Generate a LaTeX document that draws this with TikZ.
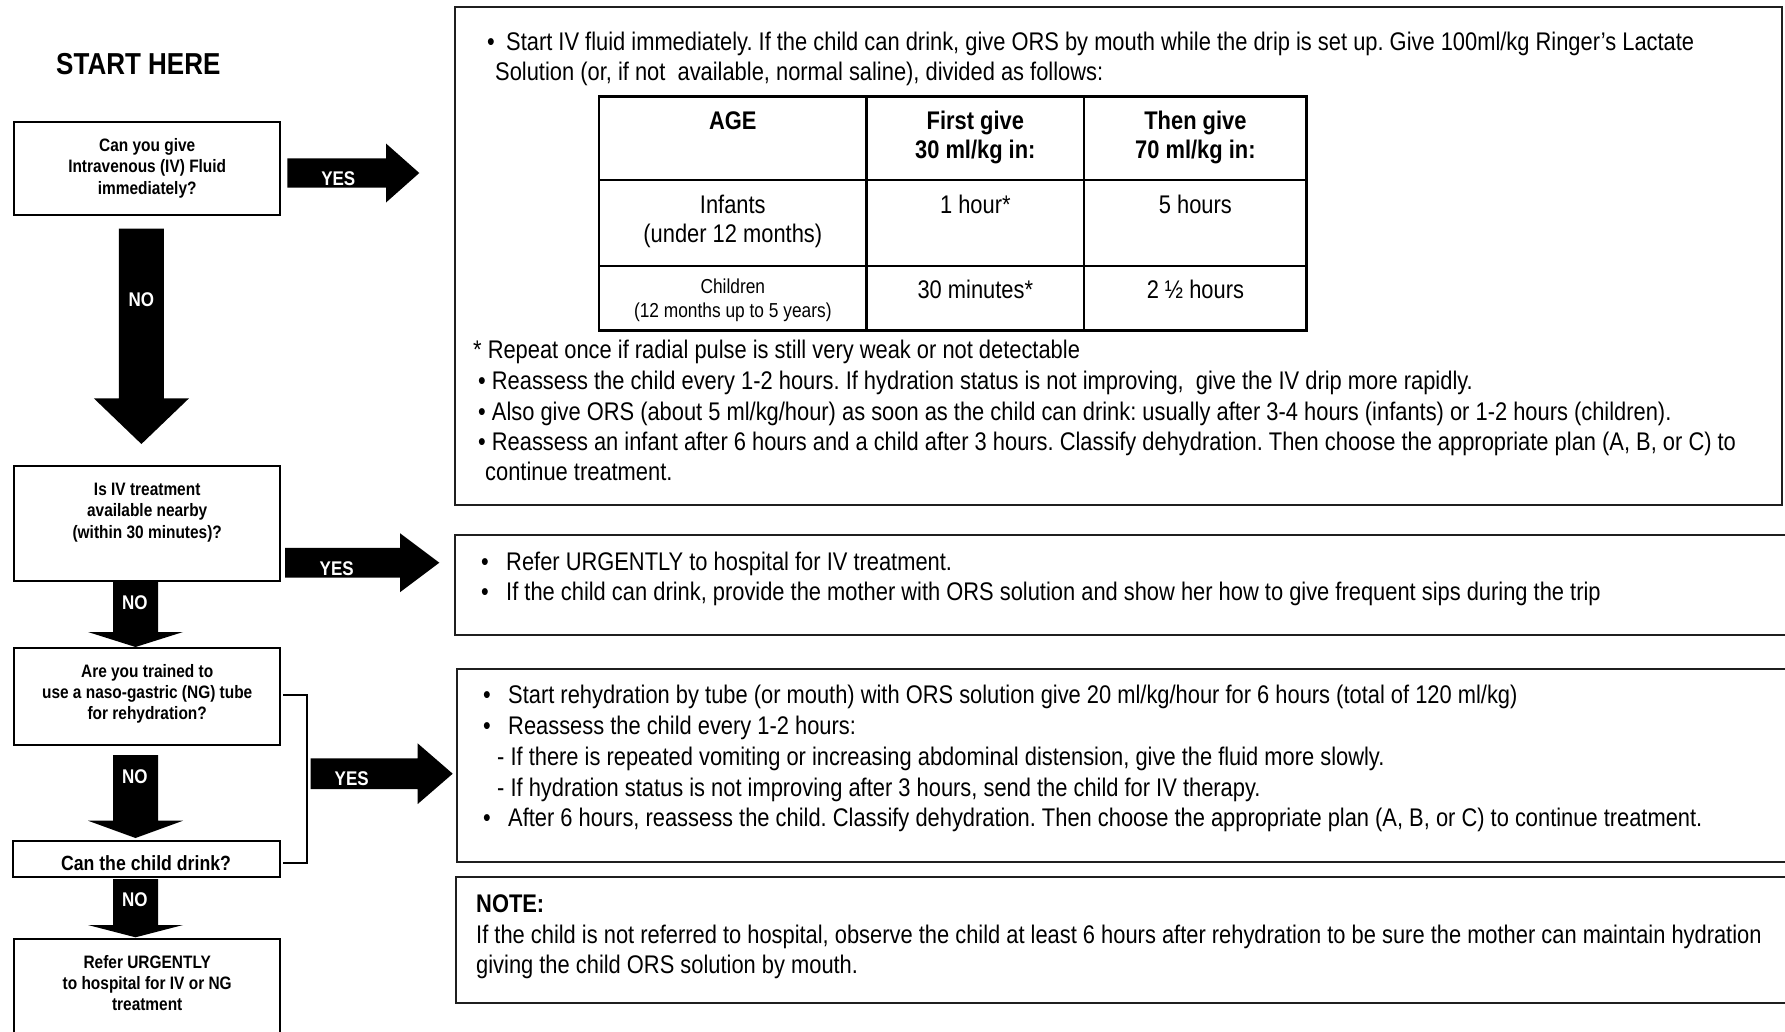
\documentclass[tikz,border=0pt]{standalone}
\usepackage{fontspec}
\setmainfont{Liberation Sans}[FakeStretch=0.858]
\usetikzlibrary{calc}
\frenchspacing
\newcommand{\blkdown}[6]{\fill (#1-#5,#2) -- (#1+#5,#2) -- (#1+#5,#3) -- (#1+#6,#3) -- (#1,#4) -- (#1-#6,#3) -- (#1-#5,#3) -- cycle;}
\newcommand{\blkright}[6]{\fill (#2,#1-#5) -- (#3,#1-#5) -- (#3,#1-#6) -- (#4,#1) -- (#3,#1+#6) -- (#3,#1+#5) -- (#2,#1+#5) -- cycle;}
\begin{document}
\frenchspacing
\begin{tikzpicture}[x=1pt,y=-1pt,
  qbox/.style={draw=black, line width=2pt, anchor=north west, inner sep=0pt, outer sep=0pt},
  rbox/.style={draw=black!88, line width=2pt, anchor=north west, inner sep=0pt, outer sep=0pt},
  qtxt/.style={anchor=base, inner sep=0pt, font=\bfseries\fontsize{18}{21.3}\selectfont},
  btxt/.style={anchor=base west, inner sep=0pt, font=\fontsize{25.5}{30.7}\selectfont},
  ttxt/.style={anchor=base, inner sep=0pt, font=\fontsize{25.5}{30.7}\selectfont},
  thead/.style={anchor=base, inner sep=0pt, font=\bfseries\fontsize{25.5}{30.7}\selectfont},
  tsmall/.style={anchor=base, inner sep=0pt, font=\fontsize{20.2}{24}\selectfont},
  yn/.style={text=white, inner sep=0pt, font=\bfseries\fontsize{19.8}{24}\selectfont},
  link/.style={draw=black, line width=2pt}]
\useasboundingbox (0,0) rectangle (1785,1031);
\fill[white] (0,0) rectangle (1785,1031);
\begin{scope}
\clip (0,0) rectangle (1785,1031);

% ---------- left column ----------
\node[anchor=base, inner sep=0pt, font=\bfseries\fontsize{30.3}{36}\selectfont] (start) at (138.3,74) {START HERE};

\node[qbox, minimum width=265.7pt, minimum height=92.7pt] (q1) at (14.3,122.3) {};
\node[qtxt] (q1a) at (147.2,151.7) {Can you give};
\node[qtxt] (q1b) at (147.2,172.7) {Intravenous (IV) Fluid};
\node[qtxt] (q1c) at (147.2,194) {immediately?};

\node[qbox, minimum width=265.7pt, minimum height=114.3pt] (q2) at (14.3,466.4) {};
\node[qtxt] (q2a) at (147.2,495.4) {Is IV treatment};
\node[qtxt] (q2b) at (147.2,516.7) {available nearby};
\node[qtxt] (q2c) at (147.2,538) {(within 30 minutes)?};

\node[qbox, minimum width=265.7pt, minimum height=96.7pt] (q3) at (14.3,648.3) {};
\node[qtxt] (q3a) at (147.2,677.3) {Are you trained to};
\node[qtxt] (q3b) at (147.2,698.5) {use a naso-gastric (NG) tube};
\node[qtxt] (q3c) at (147.2,719.7) {for rehydration?};

\node[qbox, minimum width=267.3pt, minimum height=36pt] (q4) at (12.7,840.7) {};
\node[anchor=base, inner sep=0pt, font=\bfseries\fontsize{20.6}{24}\selectfont] (q4a) at (146,870.7) {Can the child drink?};

\node[qbox, minimum width=265.7pt, minimum height=100pt] (q5) at (14.3,939) {};
\node[qtxt] (q5a) at (147.2,968.3) {Refer URGENTLY};
\node[qtxt] (q5b) at (147.2,989.5) {to hospital for IV or NG};
\node[qtxt] (q5c) at (147.2,1010.7) {treatment};

% bracket joining the two questions
\draw[link] ($(q3.east)+(3,-1.5)$) -- ++(24,0) |- ($(q4.east)+(3,4)$);

% block arrows
\blkright{173}{287.3}{386}{419.3}{14.7}{29.5}
\blkright{562.7}{285}{400}{439.3}{14.8}{29.5}
\blkright{773.7}{310.7}{417.7}{452.7}{15.3}{30.3}
\blkdown{141.4}{228.7}{398.3}{444}{22.5}{47.6}
\blkdown{135.5}{581}{632}{647}{22.5}{47.5}
\blkdown{135.5}{755}{820.7}{838}{22.5}{47.5}
\blkdown{135.5}{879}{925}{937.3}{22.5}{47.5}

\node[yn] (yes1) at (338.3,178.7) {YES};
\node[yn] (yes2) at (336.7,569) {YES};
\node[yn] (yes3) at (351.7,778.3) {YES};
\node[yn] (no1) at (141.3,300) {NO};
\node[yn] (no2) at (134.8,603) {NO};
\node[yn] (no3) at (134.8,776.7) {NO};
\node[yn] (no4) at (134.8,900) {NO};

% ---------- box A ----------
\node[rbox, minimum width=1326.7pt, minimum height=498.3pt] (bA) at (455,6.7) {};
\node[btxt] (a1d) at (487,50) {•};
\node[btxt] (a1) at (506,50) {Start IV fluid immediately. If the child can drink, give ORS by mouth while the drip is set up. Give 100ml/kg Ringer’s Lactate};
\node[btxt] (a2) at (495,80.7) {Solution (or, if not\ \ available, normal saline), divided as follows:};

% table
\node[draw=black, line width=2.7pt, anchor=north west, inner sep=0pt, outer sep=0pt, minimum width=707.8pt, minimum height=234pt] (tbl) at (599,96.7) {};
\draw[line width=2.7pt] (866.7,96.7) -- (866.7,330.7);
\draw[line width=2.7pt] (1084,96.7) -- (1084,330.7);
\draw[line width=2.7pt] (599,180) -- (1306.8,180);
\draw[line width=2.7pt] (599,266) -- (1306.8,266);

\node[thead] (h1) at (732.8,129.5) {AGE};
\node[thead] (h2a) at (975.3,129.5) {First give};
\node[thead] (h2b) at (975.3,158.7) {30 ml/kg in:};
\node[thead] (h3a) at (1195.4,129.5) {Then give};
\node[thead] (h3b) at (1195.4,158.7) {70 ml/kg in:};
\node[ttxt] (r1a) at (732.8,213.3) {Infants};
\node[ttxt] (r1b) at (732.8,242.7) {(under 12 months)};
\node[ttxt] (r1c) at (975.3,213.3) {1 hour*};
\node[ttxt] (r1d) at (1195.4,213.3) {5 hours};
\node[tsmall] (r2a) at (732.8,293.3) {Children};
\node[tsmall] (r2b) at (732.8,317.3) {(12 months up to 5 years)};
\node[ttxt] (r2c) at (975.3,298.5) {30 minutes*};
\node[ttxt] (r2d) at (1195.4,298.5) {2 ½ hours};

\node[btxt] (a3) at (473,358) {* Repeat once if radial pulse is still very weak or not detectable};
\node[btxt] (a4) at (478,389) {• Reassess the child every 1-2 hours. If hydration status is not improving,\ \ give the IV drip more rapidly.};
\node[btxt] (a5) at (478,420) {• Also give ORS (about 5 ml/kg/hour) as soon as the child can drink: usually after 3-4 hours (infants) or 1-2 hours (children).};
\node[btxt] (a6) at (478,450) {• Reassess an infant after 6 hours and a child after 3 hours. Classify dehydration. Then choose the appropriate plan (A, B, or C) to};
\node[btxt] (a7) at (485,480.7) {continue treatment.};

% ---------- box B ----------
\node[rbox, minimum width=1340pt, minimum height=100pt] (bB) at (455,535) {};
\node[btxt] (b1d) at (481,570) {•};
\node[btxt] (b1) at (506,570) {Refer URGENTLY to hospital for IV treatment.};
\node[btxt] (b2d) at (481,600) {•};
\node[btxt] (b2) at (506,600) {If the child can drink, provide the mother with ORS solution and show her how to give frequent sips during the trip};

% ---------- box C ----------
\node[rbox, minimum width=1338pt, minimum height=193pt] (bC) at (457,669) {};
\node[btxt] (c1d) at (483,703) {•};
\node[btxt] (c1) at (508,703) {Start rehydration by tube (or mouth) with ORS solution give 20 ml/kg/hour for 6 hours (total of 120 ml/kg)};
\node[btxt] (c2d) at (483,734) {•};
\node[btxt] (c2) at (508,734) {Reassess the child every 1-2 hours:};
\node[btxt] (c3) at (497,765) {- If there is repeated vomiting or increasing abdominal distension, give the fluid more slowly.};
\node[btxt] (c4) at (497,796) {- If hydration status is not improving after 3 hours, send the child for IV therapy.};
\node[btxt] (c5d) at (483,826) {•};
\node[btxt] (c5) at (508,826) {After 6 hours, reassess the child. Classify dehydration. Then choose the appropriate plan (A, B, or C) to continue treatment.};

% ---------- box D ----------
\node[rbox, minimum width=1339pt, minimum height=126pt] (bD) at (456,877) {};
\node[btxt, font=\bfseries\fontsize{25.5}{30.7}\selectfont] (d0) at (476,912) {NOTE:};
\node[btxt] (d1) at (476,943) {If the child is not referred to hospital, observe the child at least 6 hours after rehydration to be sure the mother can maintain hydration};
\node[btxt] (d2) at (476,973) {giving the child ORS solution by mouth.};
\end{scope}
\end{tikzpicture}
\end{document}
